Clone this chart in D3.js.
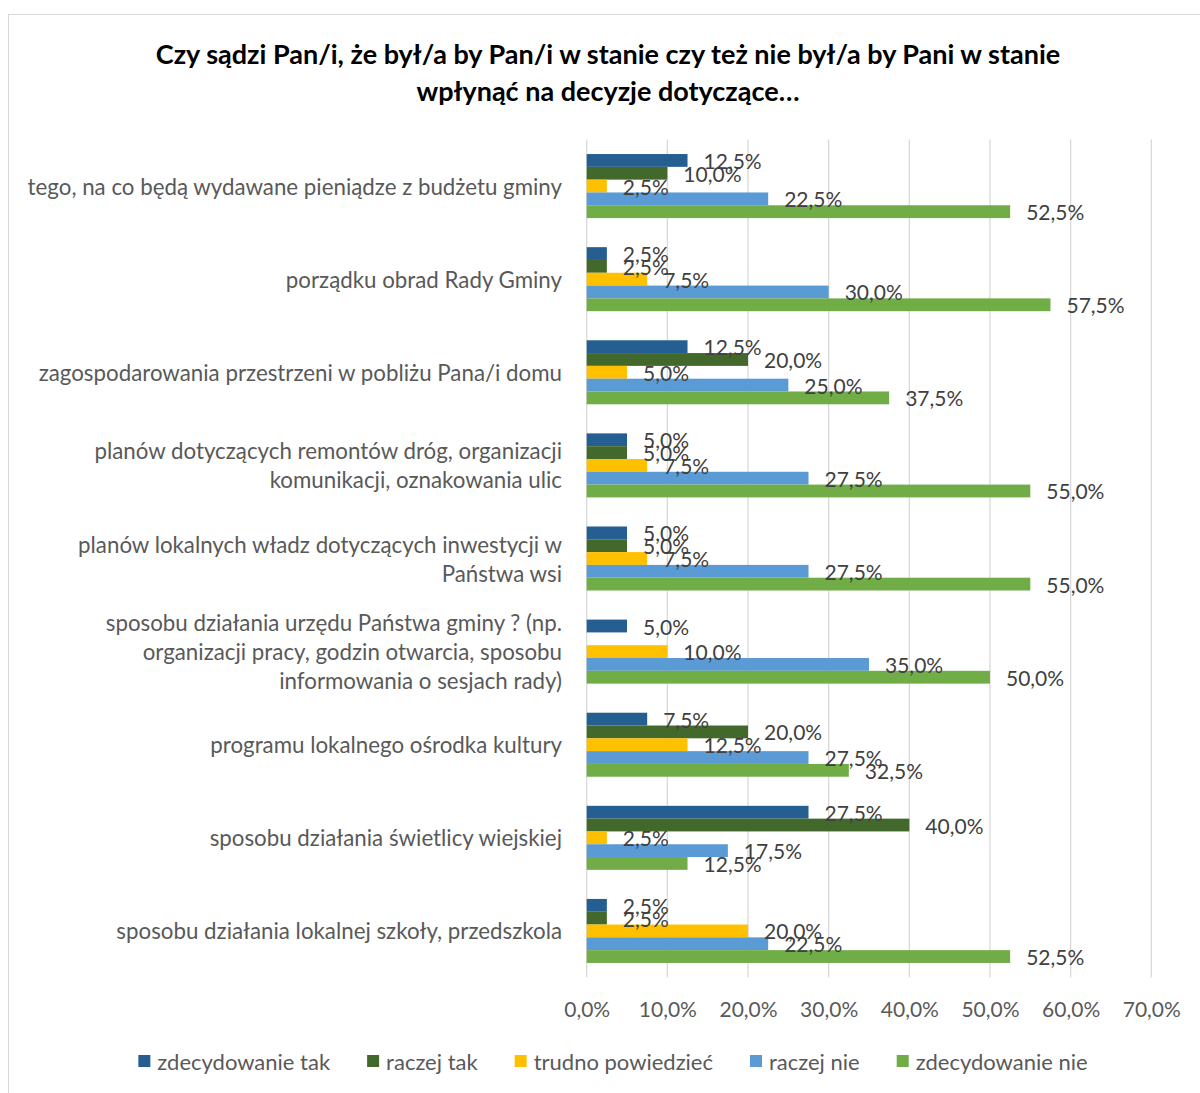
<!DOCTYPE html>
<html><head><meta charset="utf-8">
<script src="https://cdn.jsdelivr.net/npm/d3@7"></script>
<style>body{margin:0;background:#fff}svg{display:block}</style>
</head><body>
<script>
const categories = [
  "tego, na co będą wydawane pieniądze z budżetu gminy",
  "porządku obrad Rady Gminy",
  "zagospodarowania przestrzeni w pobliżu Pana/i domu",
  "planów dotyczących remontów dróg, organizacji\nkomunikacji, oznakowania ulic",
  "planów lokalnych władz dotyczących inwestycji w\nPaństwa wsi",
  "sposobu działania urzędu Państwa gminy ? (np.\norganizacji pracy, godzin otwarcia, sposobu\ninformowania o sesjach rady)",
  "programu lokalnego ośrodka kultury",
  "sposobu działania świetlicy wiejskiej",
  "sposobu działania lokalnej szkoły, przedszkola"
];
const seriesNames = ["zdecydowanie tak","raczej tak","trudno powiedzieć","raczej nie","zdecydowanie nie"];
const seriesColors = ["#255E91","#43682B","#FFC000","#5B9BD5","#70AD47"];
const zdecydowanieTak = [0.125,0.025,0.125,0.05,0.05,0.05,0.075,0.275,0.025];
const raczejTak       = [0.10,0.025,0.20,0.05,0.05,0,0.20,0.40,0.025];
const trudno          = [0.025,0.075,0.05,0.075,0.075,0.10,0.125,0.025,0.20];
const raczejNie       = [0.225,0.30,0.25,0.275,0.275,0.35,0.275,0.175,0.225];
const zdecydowanieNie = [0.525,0.575,0.375,0.55,0.55,0.50,0.325,0.125,0.525];
const tickValues = [0,0.1,0.2,0.3,0.4,0.5,0.6,0.7];
const titleLines = ["Czy sądzi Pan/i, że był/a by Pan/i w stanie czy też nie był/a by Pani w stanie","wpłynąć na decyzje dotyczące…"];

const seriesValues = [zdecydowanieTak, raczejTak, trudno, raczejNie, zdecydowanieNie];
const W = 1200, H = 1093;
const FONT = "Lato, 'Open Sans', sans-serif";
const loc = d3.formatLocale({decimal:",", thousands:" ", grouping:[3], currency:["","zł"]});
const fmt = loc.format(".1%");

const svg = d3.select("body").append("svg").attr("width", W).attr("height", H)
  .style("font-family", FONT);

svg.append("rect").attr("x",8.5).attr("y",14.5).attr("width",W).attr("height",H)
  .attr("fill","none").attr("stroke","#d9d9d9");

// title
svg.append("g").selectAll("text").data(titleLines).join("text")
  .attr("x", 608).attr("y", (d,i)=> 53 + i*37)
  .attr("text-anchor","middle").attr("dominant-baseline","central")
  .attr("font-weight","bold").attr("font-size",27).attr("fill","#000")
  .text(d=>d);

const x = d3.scaleLinear().domain([0,0.7]).range([586.7,1151.3]);
const y = d3.scaleBand().domain(categories).range([139.5,977.5]).paddingInner(0.3125).paddingOuter(0.15625);
const yi = d3.scaleBand().domain(seriesNames).range([0,y.bandwidth()]);

// gridlines
svg.append("g").selectAll("line").data(tickValues).join("line")
  .attr("x1",d=>x(d)).attr("x2",d=>x(d)).attr("y1",139.5).attr("y2",977.5)
  .attr("stroke","#d9d9d9").attr("stroke-width",1.3);

// x axis tick labels
const xAxis = d3.axisBottom(x).tickValues(tickValues).tickFormat(fmt).tickSize(0).tickPadding(0);
const gx = svg.append("g").attr("transform","translate(0,1008)").call(xAxis);
gx.select(".domain").remove();
gx.selectAll("text").attr("font-size",21).attr("fill","#595959").attr("font-family",FONT)
  .attr("dy",null).attr("y",0).attr("dominant-baseline","central");

// bars
const groups = svg.append("g").selectAll("g").data(categories).join("g")
  .attr("transform", c=>`translate(0,${y(c)})`);
groups.each(function(c, ci){
  const g = d3.select(this);
  const rows = seriesNames.map((s,si)=>({s, si, v: seriesValues[si][ci]}));
  g.selectAll("rect").data(rows.filter(r=>r.v>0)).join("rect")
    .attr("x", x(0)).attr("y", r=>yi(r.s))
    .attr("width", r=>x(r.v)-x(0)).attr("height", yi.bandwidth())
    .attr("fill", r=>seriesColors[r.si]);
  g.selectAll("text").data(rows.filter(r=>r.v>0)).join("text")
    .attr("x", r=>x(r.v)+16).attr("y", r=>yi(r.s)+yi.bandwidth()/2)
    .attr("dominant-baseline","central").attr("font-size",21).attr("fill","#404040")
    .text(r=>fmt(r.v));
});

// category labels
const cl = svg.append("g").selectAll("text").data(categories).join("text")
  .attr("text-anchor","end").attr("font-size",22.3).attr("fill","#595959");
cl.each(function(c){
  const lines = c.split("\n");
  const cy = y(c) + y.bandwidth()/2;
  d3.select(this).selectAll("tspan").data(lines).join("tspan")
    .attr("x",562).attr("y",(d,i)=> cy + (i-(lines.length-1)/2)*29)
    .attr("dominant-baseline","central").text(d=>d);
});

// legend
const leg = svg.append("g");
const items = leg.selectAll("g").data(seriesNames).join("g");
items.append("rect").attr("width",12).attr("height",12).attr("y",1055).attr("fill",(d,i)=>seriesColors[i]);
items.append("text").attr("x",19).attr("y",1061).attr("dominant-baseline","central")
  .attr("font-size",22).attr("fill","#595959").text(d=>d);
let widths = [];
items.each(function(){ widths.push(19 + d3.select(this).select("text").node().getComputedTextLength()); });
const gap = 37;
const total = d3.sum(widths) + gap*(widths.length-1);
let cx = 613 - total/2;
items.each(function(d,i){ d3.select(this).attr("transform",`translate(${cx},0)`); cx += widths[i] + gap; });
</script>
</body></html>
